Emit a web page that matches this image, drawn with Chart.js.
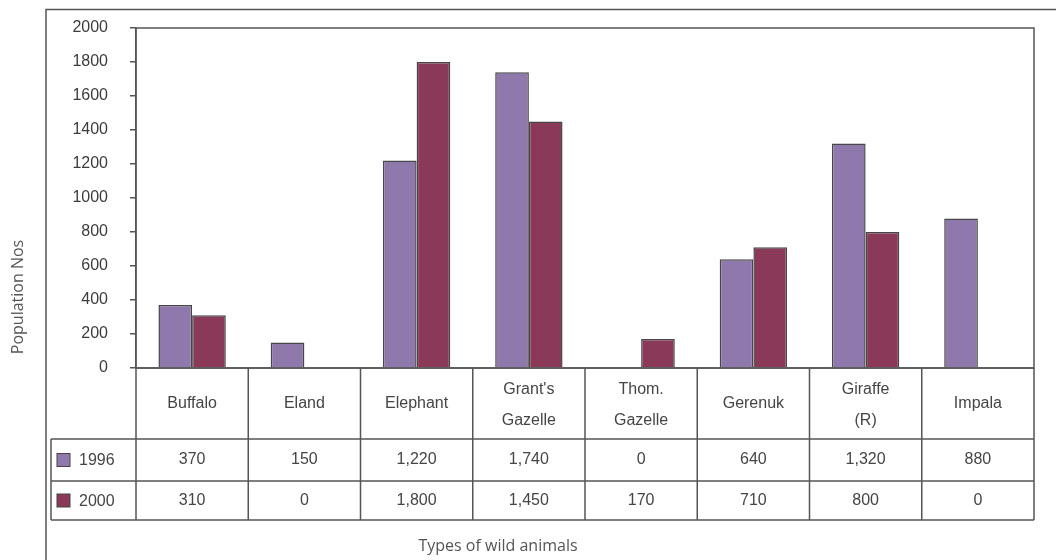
<!DOCTYPE html>
<html>
<head>
<meta charset="utf-8">
<script src="https://cdn.jsdelivr.net/npm/chart.js@4.4.1/dist/chart.umd.min.js"></script>
<style>
  html, body { margin: 0; padding: 0; background: #ffffff; }
  #wrap { width: 1056px; height: 560px; position: relative; }
</style>
</head>
<body>
<div id="wrap"><canvas id="c" width="1056" height="560"></canvas></div>
<script>
// Wild animal counts, 1996 vs 2000
const categories = [["Buffalo"], ["Eland"], ["Elephant"], ["Grant's", "Gazelle"], ["Thom.", "Gazelle"], ["Gerenuk"], ["Giraffe", "(R)"], ["Impala"]];
const seriesNames = ["1996", "2000"];
const values1996 = [370, 150, 1220, 1740, 0, 640, 1320, 880];
const values2000 = [310, 0, 1800, 1450, 170, 710, 800, 0];
const yTicks = [0, 200, 400, 600, 800, 1000, 1200, 1400, 1600, 1800, 2000];

const colors = ["#8f78ab", "#8a3a58"];
const lineColor = "#555555";
const textColor = "#454545";
const tableFont = "16px 'Liberation Sans', Arial, sans-serif";

function fmt(v) { return v.toLocaleString("en-US"); }

// Frame, data table under the bars, and axis titles
const tablePlugin = {
  id: "dataTable",
  afterDraw(chart) {
    const ctx = chart.ctx;
    const area = chart.chartArea;
    const x = chart.scales.x;
    const n = categories.length;
    const left = area.left, right = area.right, top0 = area.bottom;
    const rowHeader = top0 + 71, row1 = rowHeader + 42, row2 = row1 + 39;
    const legendLeft = 51;
    const cellW = (right - left) / n;

    ctx.save();
    ctx.strokeStyle = lineColor;
    ctx.lineWidth = 1.5;

    // outer frame (open to the right and bottom)
    ctx.beginPath();
    ctx.moveTo(46, 560); ctx.lineTo(46, 9.5); ctx.lineTo(1056, 9.5);
    ctx.stroke();

    // plot area border
    ctx.strokeRect(left, area.top, right - left, area.bottom - area.top);

    // table grid
    ctx.beginPath();
    ctx.moveTo(left, top0); ctx.lineTo(right, top0);
    [rowHeader, row1, row2].forEach(y => { ctx.moveTo(legendLeft, y); ctx.lineTo(right, y); });
    ctx.moveTo(legendLeft, rowHeader); ctx.lineTo(legendLeft, row2);
    for (let i = 0; i <= n; i++) {
      const xx = left + i * cellW;
      ctx.moveTo(xx, top0); ctx.lineTo(xx, row2);
    }
    ctx.stroke();

    // header and value text
    ctx.fillStyle = textColor;
    ctx.font = tableFont;
    ctx.textAlign = "center";
    ctx.textBaseline = "middle";
    const headerMid = (top0 + rowHeader) / 2;
    const r1Mid = (rowHeader + row1) / 2, r2Mid = (row1 + row2) / 2;
    categories.forEach((lines, i) => {
      const cx = x.getPixelForValue(i);
      if (lines.length === 1) {
        ctx.fillText(lines[0], cx, headerMid);
      } else {
        ctx.fillText(lines[0], cx, headerMid - 14);
        ctx.fillText(lines[1], cx, headerMid + 17);
      }
      ctx.fillText(fmt(values1996[i]), cx, r1Mid);
      ctx.fillText(fmt(values2000[i]), cx, r2Mid);
    });

    // legend keys in the first column
    [r1Mid, r2Mid].forEach((ym, k) => {
      ctx.fillStyle = colors[k];
      ctx.fillRect(57, ym - 6.5, 13, 13);
      ctx.strokeStyle = "#444";
      ctx.lineWidth = 1;
      ctx.strokeRect(57, ym - 6.5, 13, 13);
      ctx.fillStyle = textColor;
      ctx.textAlign = "left";
      ctx.fillText(seriesNames[k], 79, ym + 1);
    });

    // axis titles
    ctx.fillStyle = "#555";
    ctx.font = "16px 'Open Sans', sans-serif";
    ctx.textAlign = "center";
    ctx.fillText("Types of wild animals", 498, 546);
    ctx.translate(18, 297);
    ctx.rotate(-Math.PI / 2);
    ctx.fillText("Population Nos", 0, 0);
    ctx.restore();
  }
};

new Chart(document.getElementById("c"), {
  type: "bar",
  data: {
    labels: categories.map(l => l.join(" ")),
    datasets: [
      { label: seriesNames[0], data: values1996 },
      { label: seriesNames[1], data: values2000 }
    ].map((d, k) => Object.assign(d, {
      backgroundColor: colors[k],
      borderColor: "#474747",
      borderWidth: ctx => (ctx.raw === 0 ? 0 : 1.5),
      categoryPercentage: 0.6,
      barPercentage: 1.0
    }))
  },
  plugins: [tablePlugin],
  options: {
    responsive: false,
    animation: false,
    layout: { padding: { left: 0, top: 28, right: 22, bottom: 192 } },
    plugins: { legend: { display: false }, tooltip: { enabled: false } },
    scales: {
      x: { display: false },
      y: {
        min: 0,
        max: 2000,
        afterBuildTicks: scale => { scale.ticks = yTicks.map(v => ({ value: v })); },
        afterFit: scale => { scale.width = 136; scale.paddingTop = 0; scale.paddingBottom = 0; },
        border: { display: true, color: lineColor, width: 1.5 },
        grid: { drawOnChartArea: false, drawTicks: true, tickLength: 6, color: lineColor, lineWidth: 1.5 },
        ticks: {
          color: "#3c3c3c",
          padding: 22,
          callback: v => String(v),
          font: { family: "'Liberation Sans', Arial, sans-serif", size: 16 }
        }
      }
    }
  }
});
</script>
</body>
</html>
